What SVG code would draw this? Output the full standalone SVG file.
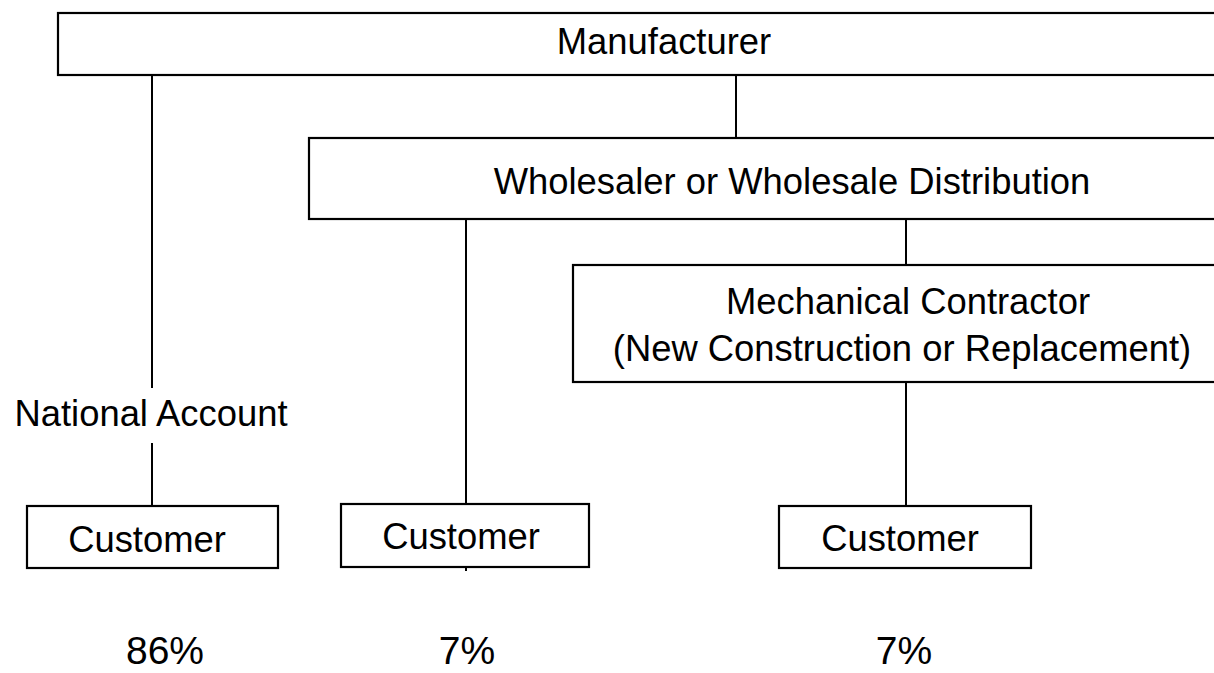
<svg xmlns="http://www.w3.org/2000/svg" width="1214" height="673" viewBox="0 0 1214 673">
<style>
.box{fill:#fff;stroke:#000;stroke-width:2.2}
.ln{stroke:#000;stroke-width:2;fill:none}
.t{font-family:"Liberation Sans",Arial,sans-serif;font-size:36.4px;fill:#000;text-anchor:middle}
.p{font-family:"Liberation Sans",Arial,sans-serif;font-size:39px;fill:#000;text-anchor:middle}
</style>
<rect width="1214" height="673" fill="#fff"/>
<g id="connectors">
<line class="ln" x1="152" y1="75" x2="152" y2="388"/>
<line class="ln" x1="152" y1="443" x2="152" y2="506"/>
<line class="ln" x1="736" y1="75" x2="736" y2="138"/>
<line class="ln" x1="466" y1="219" x2="466" y2="504"/>
<line class="ln" x1="466" y1="567" x2="466" y2="571"/>
<line class="ln" x1="906" y1="219" x2="906" y2="265"/>
<line class="ln" x1="906" y1="382" x2="906" y2="506"/>
</g>
<g id="manufacturer">
<rect class="box" x="58" y="13" width="1170" height="62"/>
<text class="t" x="664" y="54">Manufacturer</text>
</g>
<g id="wholesaler">
<rect class="box" x="309" y="138" width="920" height="81"/>
<text class="t" x="792" y="194">Wholesaler or Wholesale Distribution</text>
</g>
<g id="contractor">
<rect class="box" x="573" y="265" width="656" height="117"/>
<text class="t" x="908" y="314">Mechanical Contractor</text>
<text class="t" x="902" y="361">(New Construction or Replacement)</text>
</g>
<g id="national-account">
<text class="t" x="151" y="426">National Account</text>
</g>
<g id="customer1">
<rect class="box" x="27" y="506" width="251" height="62"/>
<text class="t" x="147" y="552">Customer</text>
</g>
<g id="customer2">
<rect class="box" x="341" y="504" width="248" height="63"/>
<text class="t" x="461" y="549">Customer</text>
</g>
<g id="customer3">
<rect class="box" x="779" y="506" width="252" height="62"/>
<text class="t" x="900" y="551">Customer</text>
</g>
<g id="percentages">
<text class="p" x="165" y="664">86%</text>
<text class="p" x="467" y="664">7%</text>
<text class="p" x="904" y="664">7%</text>
</g>
</svg>
